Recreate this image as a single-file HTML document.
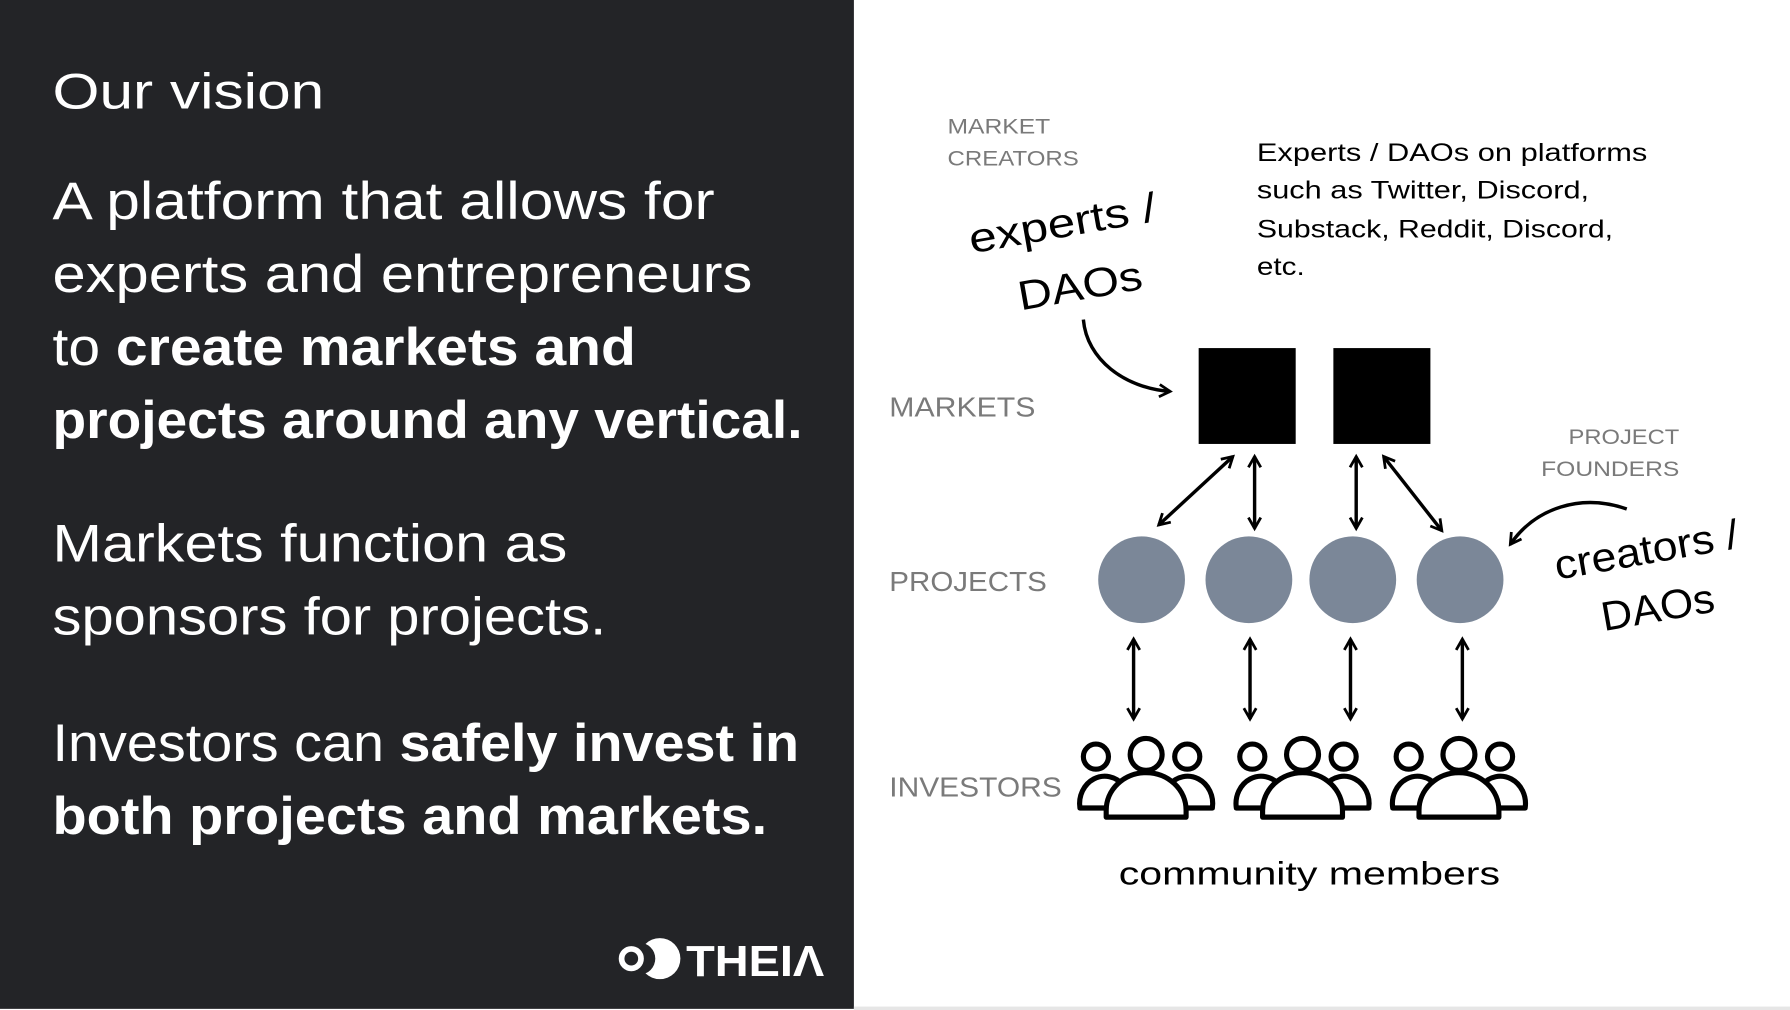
<!DOCTYPE html>
<html><head><meta charset="utf-8"><style>
html,body{margin:0;padding:0;background:#fff}
svg{display:block}
text{font-family:"Liberation Sans",sans-serif}
</style></head><body>
<svg width="1790" height="1010" viewBox="0 0 1568 885" preserveAspectRatio="none" xmlns="http://www.w3.org/2000/svg">
<defs>
<marker id="a" viewBox="0 0 10 10" refX="8" refY="5" markerWidth="4.5" markerHeight="4.5" orient="auto-start-reverse" markerUnits="strokeWidth">
<path d="M1,1 L8,5 L1,9" fill="none" stroke="#000" stroke-width="1.8"/>
</marker>
<g id="ppl" fill="#fff" stroke="#000" stroke-width="4.5" stroke-linejoin="round">
<circle cx="-44" cy="663" r="11"/><circle cx="0" cy="661" r="14"/><circle cx="36" cy="663" r="11"/>
<path d="M-58 708 A22 24 0 0 1 -20 688 L-20 708 Z"/>
<path d="M58 708 A22 24 0 0 0 20 688 L20 708 Z"/>
<path d="M-35 716 L-35 710 A35 33 0 0 1 35 710 L35 716 Z"/>
</g>
</defs>
<rect x="0" y="0" width="1568" height="885" fill="#fff"/>
<rect x="0" y="0" width="748" height="884" fill="#232427"/>
<rect x="748" y="882" width="820" height="3" fill="#e6e6e6"/>
<g fill="#fff">
<text x="46" y="95" font-size="44" textLength="238" lengthAdjust="spacingAndGlyphs">Our vision</text>
<text font-size="46" x="46" y="192" textLength="580" lengthAdjust="spacingAndGlyphs">A platform that allows for</text>
<text font-size="46" x="46" y="256" textLength="613" lengthAdjust="spacingAndGlyphs">experts and entrepreneurs</text>
<text font-size="46" x="46" y="320" textLength="511" lengthAdjust="spacingAndGlyphs">to <tspan font-weight="bold">create markets and</tspan></text>
<text font-size="46" x="46" y="384" font-weight="bold" textLength="657" lengthAdjust="spacingAndGlyphs">projects around any vertical.</text>
<text font-size="46" x="46" y="492" textLength="451" lengthAdjust="spacingAndGlyphs">Markets function as</text>
<text font-size="46" x="46" y="556" textLength="485" lengthAdjust="spacingAndGlyphs">sponsors for projects.</text>
<text font-size="46" x="46" y="667" textLength="654" lengthAdjust="spacingAndGlyphs">Investors can <tspan font-weight="bold">safely invest in</tspan></text>
<text font-size="46" x="46" y="731" font-weight="bold" textLength="626" lengthAdjust="spacingAndGlyphs">both projects and markets.</text>
<circle cx="578" cy="840" r="18" fill="#fff"/>
<circle cx="560" cy="840" r="14" fill="#232427"/>
<circle cx="553" cy="840" r="8.5" fill="none" stroke="#fff" stroke-width="5"/>
<text x="601" y="855" font-size="38" font-weight="bold" textLength="121" lengthAdjust="spacingAndGlyphs">THEIΛ</text>
</g>
<g fill="#7a7a7a" font-size="19">
<text x="830" y="117" textLength="90" lengthAdjust="spacingAndGlyphs">MARKET</text>
<text x="830" y="145" textLength="115" lengthAdjust="spacingAndGlyphs">CREATORS</text>
<text x="1471" y="389" text-anchor="end" textLength="97" lengthAdjust="spacingAndGlyphs">PROJECT</text>
<text x="1471" y="417" text-anchor="end" textLength="121" lengthAdjust="spacingAndGlyphs">FOUNDERS</text>
</g>
<g fill="#7a7a7a" font-size="24">
<text x="779" y="365" textLength="128" lengthAdjust="spacingAndGlyphs">MARKETS</text>
<text x="779" y="518" textLength="138" lengthAdjust="spacingAndGlyphs">PROJECTS</text>
<text x="779" y="698" textLength="151" lengthAdjust="spacingAndGlyphs">INVESTORS</text>
</g>
<g fill="#000" font-size="22">
<text x="1101" y="141" textLength="342" lengthAdjust="spacingAndGlyphs">Experts / DAOs on platforms</text>
<text x="1101" y="174" textLength="291" lengthAdjust="spacingAndGlyphs">such as Twitter, Discord,</text>
<text x="1101" y="208" textLength="312" lengthAdjust="spacingAndGlyphs">Substack, Reddit, Discord,</text>
<text x="1101" y="241" textLength="42" lengthAdjust="spacingAndGlyphs">etc.</text>
</g>
<g fill="#000" font-size="36">
<text transform="translate(851,222) rotate(-10)" textLength="166" lengthAdjust="spacingAndGlyphs">experts /</text>
<text transform="translate(894,272) rotate(-10)" textLength="110" lengthAdjust="spacingAndGlyphs">DAOs</text>
<text transform="translate(1364,508) rotate(-10)" textLength="163" lengthAdjust="spacingAndGlyphs">creators /</text>
<text transform="translate(1405,553) rotate(-10)" textLength="100" lengthAdjust="spacingAndGlyphs">DAOs</text>
</g>
<rect x="1050" y="305" width="85" height="84" fill="#000"/>
<rect x="1168" y="305" width="85" height="84" fill="#000"/>
<g fill="#7b8798">
<circle cx="1000" cy="508" r="38"/><circle cx="1094" cy="508" r="38"/><circle cx="1185" cy="508" r="38"/><circle cx="1279" cy="508" r="38"/>
</g>
<g stroke="#000" stroke-width="3" fill="none" marker-end="url(#a)">
<path d="M949 280 C952 315 985 340 1025 343"/>
<path d="M1425 446 C1385 432 1345 445 1323 477"/>
<path d="M1015 460 L1080 400" marker-start="url(#a)"/>
<path d="M1099 400 L1099 463" marker-start="url(#a)"/>
<path d="M1188 400 L1188 463" marker-start="url(#a)"/>
<path d="M1212 400 L1263 465" marker-start="url(#a)"/>
<path d="M993 560 L993 630" marker-start="url(#a)"/>
<path d="M1095 560 L1095 630" marker-start="url(#a)"/>
<path d="M1183 560 L1183 630" marker-start="url(#a)"/>
<path d="M1281 560 L1281 630" marker-start="url(#a)"/>
</g>
<use href="#ppl" x="1004"/>
<use href="#ppl" x="1141"/>
<use href="#ppl" x="1278"/>
<text x="1147" y="775" font-size="28" text-anchor="middle" fill="#000" textLength="334" lengthAdjust="spacingAndGlyphs">community members</text>
</svg>
</body></html>
